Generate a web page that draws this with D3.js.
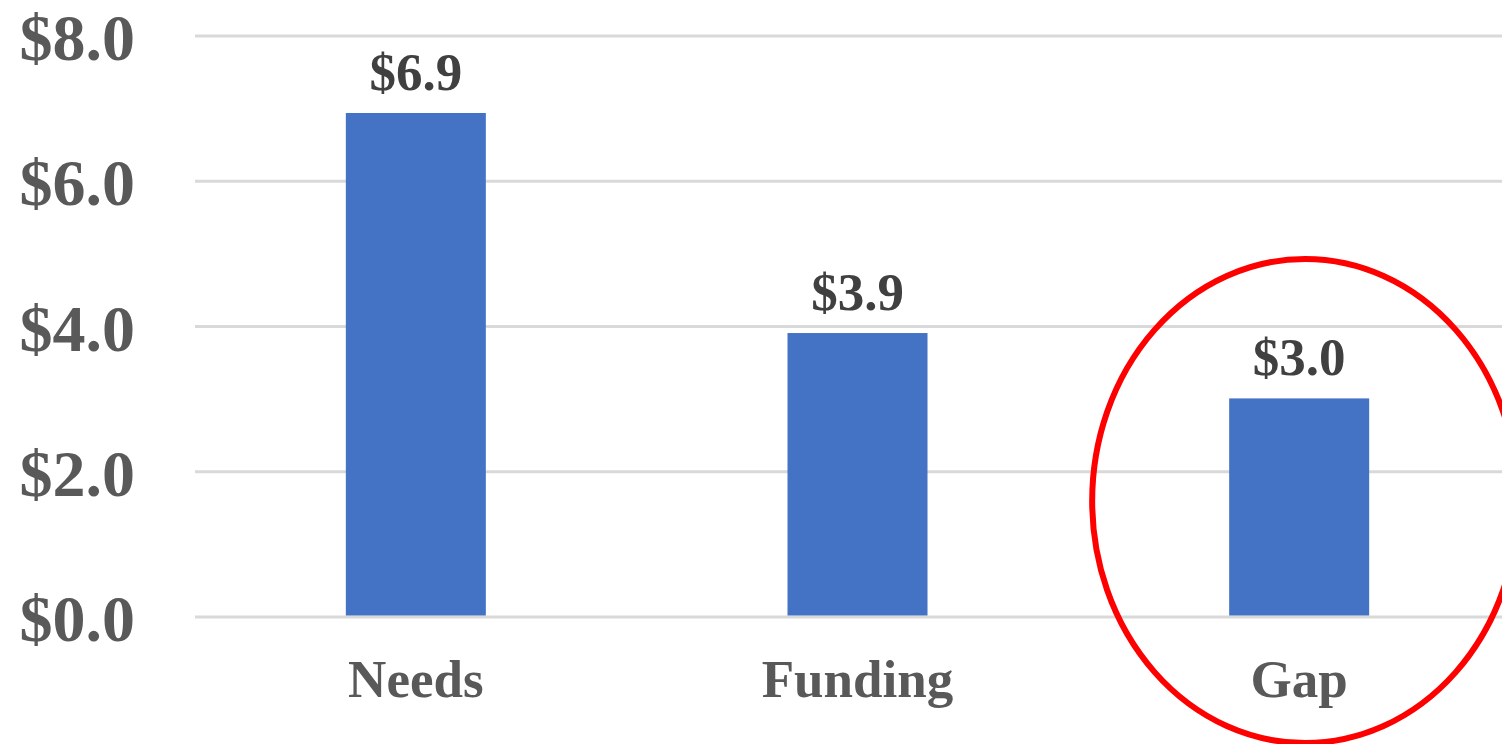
<!DOCTYPE html>
<html>
<head>
<meta charset="utf-8">
<script src="https://cdn.jsdelivr.net/npm/d3@7"></script>
<style>
  html, body { margin: 0; padding: 0; background: #fff; }
  svg { display: block; font-family: "Liberation Serif", "Times New Roman", serif; font-weight: bold; }
</style>
</head>
<body>
<div class="wrapper"></div>
<script>
// data
var categories = ['Needs', 'Funding', 'Gap'];
var values     = [6.94, 3.91, 3.01];
var yTicks     = [0, 2, 4, 6, 8];

var width = 1502, height = 744;
var margin = {top: 36, right: -18, bottom: 127, left: 195};

var svg = d3.select('.wrapper').append('svg')
            .attr('width', width)
            .attr('height', height);

var x = d3.scaleBand()
          .domain(categories)
          .range([margin.left, width - margin.right])
          .paddingInner(0.683)
          .paddingOuter(0.3415);

var y = d3.scaleLinear()
          .domain([0, 8])
          .range([height - margin.bottom, margin.top]);

var fmt = d => '$' + d3.format('.1f')(d);

// gridlines
svg.append('g').selectAll('line')
   .data(yTicks)
   .enter().append('line')
   .attr('x1', margin.left)
   .attr('x2', width)
   .attr('y1', d => y(d))
   .attr('y2', d => y(d))
   .attr('stroke', '#d9d9d9')
   .attr('stroke-width', 3);

// y tick labels
svg.append('g').selectAll('text')
   .data(yTicks)
   .enter().append('text')
   .attr('x', 135)
   .attr('y', d => y(d) + 24)
   .attr('text-anchor', 'end')
   .attr('fill', '#595959')
   .style('font-size', '66px')
   .text(fmt);

// bars
svg.append('g').selectAll('rect')
   .data(values)
   .enter().append('rect')
   .attr('x', (d, i) => x(categories[i]))
   .attr('width', x.bandwidth())
   .attr('y', d => y(d))
   .attr('height', d => y(0) - y(d) - 1.5)
   .attr('fill', '#4472c4');

// value labels
svg.append('g').selectAll('text')
   .data(values)
   .enter().append('text')
   .attr('x', (d, i) => x(categories[i]) + x.bandwidth() / 2)
   .attr('y', d => y(d) - 23)
   .attr('text-anchor', 'middle')
   .attr('fill', '#404040')
   .style('font-size', '53px')
   .text(fmt);

// category labels
svg.append('g').selectAll('text')
   .data(categories)
   .enter().append('text')
   .attr('x', d => x(d) + x.bandwidth() / 2)
   .attr('y', 697)
   .attr('text-anchor', 'middle')
   .attr('fill', '#595959')
   .style('font-size', '53px')
   .text(d => d);

// highlight ring around the gap
svg.append('ellipse')
   .attr('cx', x('Gap') + x.bandwidth() / 2 + 6)
   .attr('cy', 501)
   .attr('rx', 213)
   .attr('ry', 242)
   .attr('fill', 'none')
   .attr('stroke', '#ff0000')
   .attr('stroke-width', 6);
</script>
</body>
</html>
